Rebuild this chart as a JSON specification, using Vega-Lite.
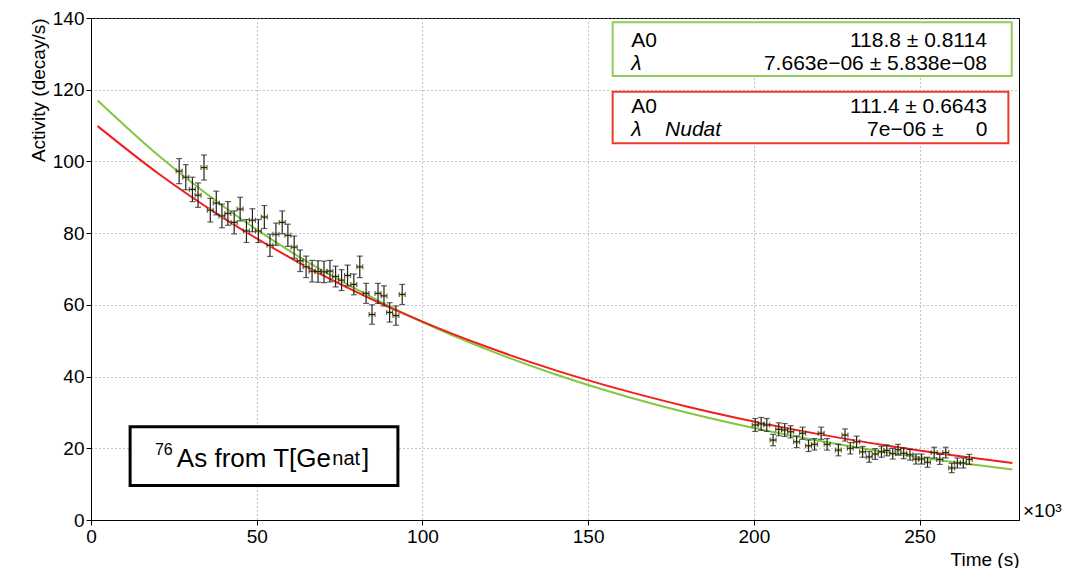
{
  "$schema": "https://vega.github.io/schema/vega-lite/v6.json",
  "width": 928,
  "height": 502,
  "autosize": {"type": "none"},
  "padding": {"left": 91, "top": 18, "right": 53, "bottom": 48},
  "background": "white",
  "config": {
    "view": {"stroke": "#000", "strokeWidth": 1},
    "axis": {
      "domainColor": "#000", "tickColor": "#000", "labelColor": "#000", "titleColor": "#000",
      "labelFontSize": 19, "titleFontSize": 19, "titleFontWeight": "normal",
      "gridColor": "#8a8a8a", "gridDash": [1, 3]
    }
  },
  "datasets": {
    "pts": [
      {"t": 26.6, "a": 97.3, "ey": 3.5, "ex": 0.9}, {"t": 28.6, "a": 95.6, "ey": 3.5, "ex": 0.9},
      {"t": 30.6, "a": 92.2, "ey": 3.4, "ex": 0.9}, {"t": 32.3, "a": 90.6, "ey": 3.4, "ex": 0.9},
      {"t": 34.1, "a": 98.3, "ey": 3.5, "ex": 0.9}, {"t": 36.0, "a": 86.4, "ey": 3.3, "ex": 0.9},
      {"t": 37.8, "a": 88.4, "ey": 3.3, "ex": 0.9}, {"t": 39.5, "a": 84.8, "ey": 3.3, "ex": 0.9},
      {"t": 41.3, "a": 85.5, "ey": 3.3, "ex": 0.9}, {"t": 43.2, "a": 83.0, "ey": 3.2, "ex": 0.9},
      {"t": 45.0, "a": 86.7, "ey": 3.3, "ex": 0.9}, {"t": 46.9, "a": 80.6, "ey": 3.2, "ex": 0.9},
      {"t": 48.7, "a": 83.6, "ey": 3.2, "ex": 0.9}, {"t": 50.5, "a": 80.6, "ey": 3.2, "ex": 0.9},
      {"t": 52.3, "a": 84.5, "ey": 3.2, "ex": 0.9}, {"t": 54.0, "a": 76.6, "ey": 3.1, "ex": 0.9},
      {"t": 55.8, "a": 79.7, "ey": 3.1, "ex": 0.9}, {"t": 57.7, "a": 83.0, "ey": 3.2, "ex": 0.9},
      {"t": 59.4, "a": 79.4, "ey": 3.1, "ex": 0.9}, {"t": 61.3, "a": 76.1, "ey": 3.1, "ex": 0.9},
      {"t": 63.1, "a": 72.3, "ey": 3.0, "ex": 0.9}, {"t": 64.9, "a": 70.6, "ey": 3.0, "ex": 0.9},
      {"t": 66.7, "a": 69.4, "ey": 3.0, "ex": 0.9}, {"t": 68.5, "a": 69.3, "ey": 3.0, "ex": 0.9},
      {"t": 70.3, "a": 69.2, "ey": 3.0, "ex": 0.9}, {"t": 72.1, "a": 69.4, "ey": 3.0, "ex": 0.9},
      {"t": 73.8, "a": 67.9, "ey": 2.9, "ex": 0.9}, {"t": 75.6, "a": 66.9, "ey": 2.9, "ex": 0.9},
      {"t": 77.4, "a": 68.2, "ey": 2.9, "ex": 0.9}, {"t": 79.3, "a": 65.7, "ey": 2.9, "ex": 0.9},
      {"t": 81.1, "a": 70.6, "ey": 3.0, "ex": 0.9}, {"t": 83.0, "a": 63.2, "ey": 2.8, "ex": 0.9},
      {"t": 84.8, "a": 57.3, "ey": 2.7, "ex": 0.9}, {"t": 86.6, "a": 63.2, "ey": 2.8, "ex": 0.9},
      {"t": 88.4, "a": 62.5, "ey": 2.8, "ex": 0.9}, {"t": 90.1, "a": 57.9, "ey": 2.7, "ex": 0.9},
      {"t": 92.0, "a": 57.0, "ey": 2.7, "ex": 0.9}, {"t": 93.9, "a": 62.9, "ey": 2.8, "ex": 0.9},
      {"t": 200.4, "a": 26.5, "ey": 1.8, "ex": 0.9}, {"t": 202.2, "a": 26.8, "ey": 1.8, "ex": 0.9},
      {"t": 203.9, "a": 26.5, "ey": 1.8, "ex": 0.9}, {"t": 205.8, "a": 22.3, "ey": 1.6, "ex": 0.9},
      {"t": 207.5, "a": 25.3, "ey": 1.8, "ex": 0.9}, {"t": 209.3, "a": 25.1, "ey": 1.8, "ex": 0.9},
      {"t": 211.1, "a": 24.6, "ey": 1.7, "ex": 0.9}, {"t": 212.9, "a": 21.8, "ey": 1.6, "ex": 0.9},
      {"t": 214.7, "a": 24.2, "ey": 1.7, "ex": 0.9}, {"t": 216.5, "a": 20.7, "ey": 1.6, "ex": 0.9},
      {"t": 218.3, "a": 21.1, "ey": 1.6, "ex": 0.9}, {"t": 220.3, "a": 24.2, "ey": 1.7, "ex": 0.9},
      {"t": 222.1, "a": 21.1, "ey": 1.6, "ex": 0.9}, {"t": 225.5, "a": 19.5, "ey": 1.6, "ex": 0.9},
      {"t": 227.5, "a": 23.7, "ey": 1.7, "ex": 0.9}, {"t": 229.1, "a": 20.0, "ey": 1.6, "ex": 0.9},
      {"t": 231.0, "a": 21.8, "ey": 1.6, "ex": 0.9}, {"t": 232.8, "a": 19.0, "ey": 1.5, "ex": 0.9},
      {"t": 234.8, "a": 17.6, "ey": 1.5, "ex": 0.9}, {"t": 236.6, "a": 18.4, "ey": 1.5, "ex": 0.9},
      {"t": 238.5, "a": 19.0, "ey": 1.5, "ex": 0.9}, {"t": 240.1, "a": 19.4, "ey": 1.5, "ex": 0.9},
      {"t": 241.9, "a": 18.5, "ey": 1.5, "ex": 0.9}, {"t": 243.5, "a": 19.6, "ey": 1.5, "ex": 0.9},
      {"t": 245.2, "a": 18.6, "ey": 1.5, "ex": 0.9}, {"t": 247.1, "a": 18.2, "ey": 1.5, "ex": 0.9},
      {"t": 248.9, "a": 17.0, "ey": 1.4, "ex": 0.9}, {"t": 250.6, "a": 17.0, "ey": 1.4, "ex": 0.9},
      {"t": 252.4, "a": 16.1, "ey": 1.4, "ex": 0.9}, {"t": 254.4, "a": 18.8, "ey": 1.5, "ex": 0.9},
      {"t": 256.1, "a": 16.9, "ey": 1.4, "ex": 0.9}, {"t": 257.9, "a": 18.8, "ey": 1.5, "ex": 0.9},
      {"t": 259.7, "a": 14.5, "ey": 1.3, "ex": 0.9}, {"t": 261.4, "a": 15.9, "ey": 1.4, "ex": 0.9},
      {"t": 263.2, "a": 15.9, "ey": 1.4, "ex": 0.9}, {"t": 265.0, "a": 16.9, "ey": 1.4, "ex": 0.9}
    ]
  },
  "layer": [
    {
      "data": {"values": [
        {"t": 2, "v": 116.99, "fit": "exp"}, {"t": 20, "v": 101.92, "fit": "exp"}, {"t": 40, "v": 87.44, "fit": "exp"},
        {"t": 60, "v": 75.01, "fit": "exp"}, {"t": 80, "v": 64.36, "fit": "exp"}, {"t": 100, "v": 55.21, "fit": "exp"},
        {"t": 120, "v": 47.37, "fit": "exp"}, {"t": 140, "v": 40.64, "fit": "exp"}, {"t": 160, "v": 34.86, "fit": "exp"},
        {"t": 180, "v": 29.91, "fit": "exp"}, {"t": 200, "v": 25.66, "fit": "exp"}, {"t": 220, "v": 22.01, "fit": "exp"},
        {"t": 240, "v": 18.89, "fit": "exp"}, {"t": 260, "v": 16.20, "fit": "exp"}, {"t": 278, "v": 14.11, "fit": "exp"},
        {"t": 2, "v": 109.85, "fit": "nudat"}, {"t": 20, "v": 96.85, "fit": "nudat"}, {"t": 40, "v": 84.19, "fit": "nudat"},
        {"t": 60, "v": 73.19, "fit": "nudat"}, {"t": 80, "v": 63.63, "fit": "nudat"}, {"t": 100, "v": 55.32, "fit": "nudat"},
        {"t": 120, "v": 48.09, "fit": "nudat"}, {"t": 140, "v": 41.81, "fit": "nudat"}, {"t": 160, "v": 36.35, "fit": "nudat"},
        {"t": 180, "v": 31.60, "fit": "nudat"}, {"t": 200, "v": 27.47, "fit": "nudat"}, {"t": 220, "v": 23.88, "fit": "nudat"},
        {"t": 240, "v": 20.76, "fit": "nudat"}, {"t": 260, "v": 18.05, "fit": "nudat"}, {"t": 278, "v": 15.91, "fit": "nudat"}
      ]},
      "mark": {"type": "line", "strokeWidth": 2, "interpolate": "monotone"},
      "encoding": {
        "x": {
          "field": "t", "type": "quantitative", "title": "Time (s)",
          "scale": {"domain": [0, 280], "nice": false, "zero": false},
          "axis": {"title": "Time (s)", "values": [0, 50, 100, 150, 200, 250], "format": "d", "grid": true, "labelFlush": false, "titleAnchor": "end"}
        },
        "y": {
          "field": "v", "type": "quantitative", "title": "Activity (decay/s)",
          "scale": {"domain": [0, 140], "nice": false, "zero": false},
          "axis": {"title": "Activity (decay/s)", "values": [0, 20, 40, 60, 80, 100, 120, 140], "format": "d", "grid": true, "labelFlush": false, "titleAnchor": "end"}
        },
        "color": {"field": "fit", "type": "nominal", "scale": {"domain": ["exp", "nudat"], "range": ["#83c63f", "#f21d1d"]}, "legend": null}
      }
    },
    {
      "data": {"name": "pts"},
      "mark": {"type": "square", "size": 14, "color": "#e9e24a", "opacity": 0.85},
      "encoding": {
        "x": {"field": "t", "type": "quantitative", "title": "Time (s)"},
        "y": {"field": "a", "type": "quantitative", "title": "Activity (decay/s)"}
      }
    },
    {
      "data": {"name": "pts"},
      "mark": {"type": "errorbar", "color": "#222", "thickness": 1.2, "ticks": {"size": 6, "thickness": 1.2}},
      "encoding": {
        "x": {"field": "t", "type": "quantitative", "title": "Time (s)"},
        "y": {"field": "a", "type": "quantitative", "title": "Activity (decay/s)"},
        "yError": {"field": "ey"}
      }
    },
    {
      "data": {"name": "pts"},
      "mark": {"type": "errorbar", "color": "#222", "thickness": 1.2, "ticks": {"size": 5, "thickness": 1.2}},
      "encoding": {
        "x": {"field": "t", "type": "quantitative", "title": "Time (s)"},
        "xError": {"field": "ex"},
        "y": {"field": "a", "type": "quantitative", "title": "Activity (decay/s)"}
      }
    },
    {
      "data": {"values": [{}]},
      "mark": {"type": "rect", "fill": "white", "stroke": "#8fcc5c", "strokeWidth": 2},
      "encoding": {"x": {"datum": 157.4}, "x2": {"datum": 277.8}, "y": {"datum": 138.8}, "y2": {"datum": 123.8}}
    },
    {
      "data": {"values": [{}]},
      "mark": {"type": "rect", "fill": "white", "stroke": "#ec3a2a", "strokeWidth": 2},
      "encoding": {"x": {"datum": 157.4}, "x2": {"datum": 276.8}, "y": {"datum": 119.4}, "y2": {"datum": 105.1}}
    },
    {
      "data": {"values": [{}]},
      "mark": {"type": "rect", "fill": "white", "stroke": "#000", "strokeWidth": 3},
      "encoding": {"x": {"datum": 11.8}, "x2": {"datum": 92.6}, "y": {"datum": 26.0}, "y2": {"datum": 9.6}}
    },
    {
      "data": {"values": [{"s": "A0"}]},
      "mark": {"type": "text", "align": "left", "baseline": "alphabetic", "fontSize": 21, "font": "Liberation Sans", "color": "#000"},
      "encoding": {"x": {"datum": 163}, "y": {"datum": 131.9}, "text": {"field": "s"}}
    },
    {
      "data": {"values": [{"s": "λ"}]},
      "mark": {"type": "text", "align": "left", "baseline": "alphabetic", "fontSize": 21, "fontStyle": "italic", "font": "Liberation Sans", "color": "#000"},
      "encoding": {"x": {"datum": 163}, "y": {"datum": 125.4}, "text": {"field": "s"}}
    },
    {
      "data": {"values": [{"s": "118.8 ± 0.8114"}]},
      "mark": {"type": "text", "align": "right", "baseline": "alphabetic", "fontSize": 21, "font": "Liberation Sans", "color": "#000"},
      "encoding": {"x": {"datum": 270.3}, "y": {"datum": 131.9}, "text": {"field": "s"}}
    },
    {
      "data": {"values": [{"s": "7.663e−06 ± 5.838e−08"}]},
      "mark": {"type": "text", "align": "right", "baseline": "alphabetic", "fontSize": 21, "font": "Liberation Sans", "color": "#000"},
      "encoding": {"x": {"datum": 270.3}, "y": {"datum": 125.4}, "text": {"field": "s"}}
    },
    {
      "data": {"values": [{"s": "A0"}]},
      "mark": {"type": "text", "align": "left", "baseline": "alphabetic", "fontSize": 21, "font": "Liberation Sans", "color": "#000"},
      "encoding": {"x": {"datum": 163}, "y": {"datum": 113.6}, "text": {"field": "s"}}
    },
    {
      "data": {"values": [{"s": "λ"}]},
      "mark": {"type": "text", "align": "left", "baseline": "alphabetic", "fontSize": 21, "fontStyle": "italic", "font": "Liberation Sans", "color": "#000"},
      "encoding": {"x": {"datum": 163}, "y": {"datum": 107.1}, "text": {"field": "s"}}
    },
    {
      "data": {"values": [{"s": "Nudat"}]},
      "mark": {"type": "text", "align": "left", "baseline": "alphabetic", "fontSize": 21, "fontStyle": "italic", "font": "Liberation Sans", "color": "#000"},
      "encoding": {"x": {"datum": 173.2}, "y": {"datum": 107.1}, "text": {"field": "s"}}
    },
    {
      "data": {"values": [{"s": "111.4 ± 0.6643"}]},
      "mark": {"type": "text", "align": "right", "baseline": "alphabetic", "fontSize": 21, "font": "Liberation Sans", "color": "#000"},
      "encoding": {"x": {"datum": 270.3}, "y": {"datum": 113.6}, "text": {"field": "s"}}
    },
    {
      "data": {"values": [{"s": "7e−06 ±"}]},
      "mark": {"type": "text", "align": "right", "baseline": "alphabetic", "fontSize": 21, "font": "Liberation Sans", "color": "#000"},
      "encoding": {"x": {"datum": 257.2}, "y": {"datum": 107.1}, "text": {"field": "s"}}
    },
    {
      "data": {"values": [{"s": "0"}]},
      "mark": {"type": "text", "align": "right", "baseline": "alphabetic", "fontSize": 21, "font": "Liberation Sans", "color": "#000"},
      "encoding": {"x": {"datum": 270.5}, "y": {"datum": 107.1}, "text": {"field": "s"}}
    },
    {
      "data": {"values": [{"s": "76"}]},
      "mark": {"type": "text", "align": "left", "baseline": "alphabetic", "fontSize": 16, "font": "Liberation Sans", "color": "#000"},
      "encoding": {"x": {"datum": 19.3}, "y": {"datum": 18.1}, "text": {"field": "s"}}
    },
    {
      "data": {"values": [{"s": "As from T[Ge"}]},
      "mark": {"type": "text", "align": "left", "baseline": "alphabetic", "fontSize": 26, "font": "Liberation Sans", "color": "#000"},
      "encoding": {"x": {"datum": 25.9}, "y": {"datum": 14.9}, "text": {"field": "s"}}
    },
    {
      "data": {"values": [{"s": "nat"}]},
      "mark": {"type": "text", "align": "left", "baseline": "alphabetic", "fontSize": 20, "font": "Liberation Sans", "color": "#000"},
      "encoding": {"x": {"datum": 72.8}, "y": {"datum": 15.2}, "text": {"field": "s"}}
    },
    {
      "data": {"values": [{"s": "]"}]},
      "mark": {"type": "text", "align": "left", "baseline": "alphabetic", "fontSize": 26, "font": "Liberation Sans", "color": "#000"},
      "encoding": {"x": {"datum": 81.8}, "y": {"datum": 14.9}, "text": {"field": "s"}}
    },
    {
      "data": {"values": [{"s": "×10³"}]},
      "mark": {"type": "text", "align": "left", "baseline": "bottom", "fontSize": 19, "font": "Liberation Sans", "color": "#000", "dx": 4, "dy": 1},
      "encoding": {"x": {"datum": 280}, "y": {"datum": 0}, "text": {"field": "s"}}
    }
  ]
}
